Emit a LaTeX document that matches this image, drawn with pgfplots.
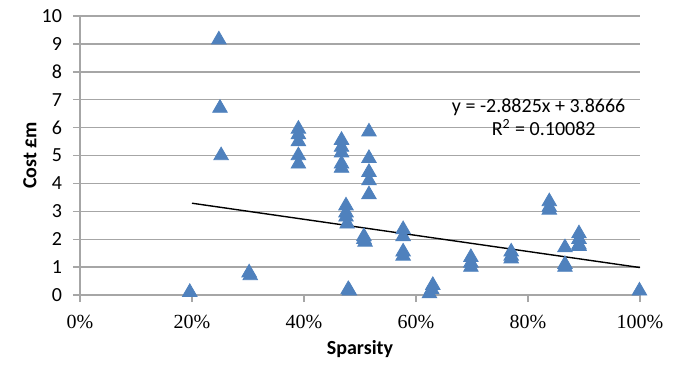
\documentclass[border=0pt]{standalone}
\usepackage{pgfplots}
\pgfplotsset{compat=1.18}
\usepackage{fontspec}
\setmainfont{Carlito}
\newfontfamily\timesfont{Liberation Serif}
\definecolor{xlblue}{HTML}{4F81BD}
\definecolor{gridgray}{HTML}{A6A6A6}
\begin{document}
\begin{tikzpicture}
\begin{axis}[
  name=ax,
  scale only axis,
  width=280pt, height=139.5pt,
  xmin=0, xmax=1, ymin=0, ymax=10,
  axis x line*=bottom, axis y line*=left,
  axis line style={gridgray, line width=0.7pt, -},
  tick style={gridgray, line width=0.7pt},
  tick align=outside, major tick length=3.5pt,
  xtick={0,0.2,0.4,0.6,0.8,1},
  xticklabels={0\%,20\%,40\%,60\%,80\%,100\%},
  ytick={0,1,...,10},
  ymajorgrids, grid style={gridgray, line width=0.7pt},
  font=\fontsize{10}{12}\selectfont,
  xticklabel style={font=\timesfont\fontsize{10}{12}\selectfont, yshift=-3pt},
  yticklabel style={xshift=-2pt},
  /pgf/number format/assume math mode=true,
  xlabel={\bfseries Sparsity},
  ylabel={\bfseries Cost £m},
  every axis x label/.style={at={([yshift=-27pt]axis description cs:0.5,0)}, anchor=center},
  every axis y label/.style={at={([xshift=-25pt]axis description cs:0,0.5)}, anchor=center, rotate=90},
  clip=false,
]
\addplot[only marks, mark=triangle*, mark size=4.2pt, mark options={fill=xlblue, draw=xlblue}] coordinates {
  (0.196,0.1)
  (0.248,9.15) (0.250,6.7) (0.252,5.0)
  (0.302,0.8) (0.304,0.7)
  (0.390,5.95) (0.390,5.75) (0.390,5.5) (0.390,5.0) (0.390,4.7)
  (0.467,5.55) (0.467,5.3) (0.467,5.1) (0.467,4.7) (0.467,4.55)
  (0.475,3.2) (0.475,2.95) (0.475,2.8) (0.477,2.55)
  (0.479,0.2) (0.481,0.15)
  (0.507,2.1) (0.507,2.0) (0.509,1.9)
  (0.516,5.85) (0.516,4.9) (0.516,4.4) (0.516,4.1) (0.516,3.6)
  (0.577,2.35) (0.577,2.1) (0.577,1.55) (0.577,1.4)
  (0.624,0.05) (0.628,0.2) (0.630,0.35)
  (0.698,1.35) (0.698,1.15) (0.698,1.0)
  (0.770,1.55) (0.770,1.4) (0.770,1.3)
  (0.838,3.35) (0.838,3.15) (0.838,3.05)
  (0.866,1.7) (0.866,1.1) (0.866,1.0)
  (0.891,2.2) (0.891,2.0) (0.891,1.8) (0.891,1.75)
  (0.999,0.15)
};
\addplot[black, line width=0.7pt] coordinates {(0.2,3.2901) (1.0,0.9841)};
\node[anchor=center] at (axis cs:0.819,6.74) {y = -2.8825x + 3.8666};
\node[anchor=center] at (axis cs:0.828,5.99) {R\textsuperscript{2} = 0.10082};
\end{axis}
\path (ax.south west) ++(-40pt,-33.5pt) rectangle ++(339pt,181pt);
\end{tikzpicture}
\end{document}
